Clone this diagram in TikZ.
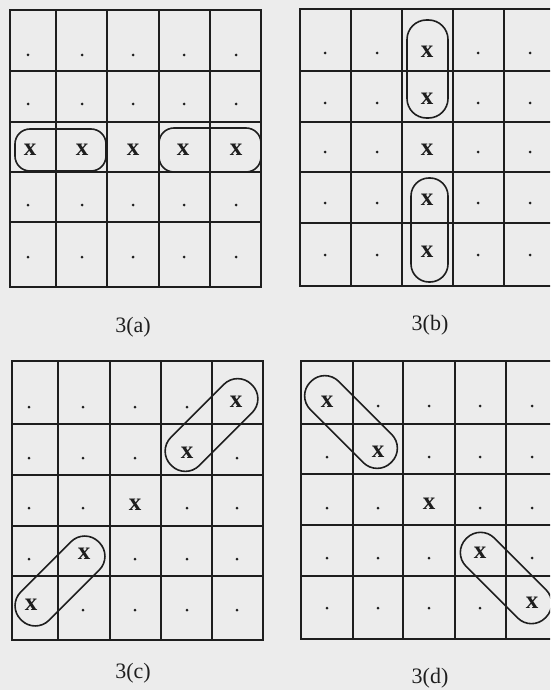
\documentclass[tikz,border=0pt]{standalone}
\usepackage{fontspec}
\setmainfont{Liberation Serif}
\definecolor{ink}{RGB}{30,30,30}
\definecolor{paper}{RGB}{236,236,236}
\begin{document}
\begin{tikzpicture}[x=1pt,y=-1pt,
  gridline/.style={line width=2pt, draw=ink},
  loop/.style={line width=1.6pt, draw=ink},
  pt/.style={circle, fill=ink, inner sep=0pt, minimum size=3pt},
  xmark/.style={font=\fontsize{25}{25}\selectfont\bfseries, text=ink, inner sep=0pt},
  lab/.style={font=\fontsize{22}{22}\selectfont, text=ink, inner sep=0pt}]
\fill[paper] (0,0) rectangle (550,690);
\useasboundingbox (0,0) rectangle (550,690);
\clip (0,0) rectangle (550,690);

% ---------- grid 3(a)
\draw[gridline] (10,10) rectangle (261,287);
\foreach \v in {56,107,159,210} \draw[gridline] (\v,10) -- (\v,287);
\foreach \h in {71,122,172,222} \draw[gridline] (10,\h) -- (261,\h);
\foreach \px/\i in {28/1,82/2,133/3,184/4,236/5}
  \foreach \py/\j in {55/1,104/2,205/4,257/5}
    \node[pt] (a-\j-\i) at (\px,\py) {};
\foreach \px/\i in {30/1,82/2,133/3,183/4,236/5}
  \node[xmark] (ax\i) at (\px,150) {x};
\draw[loop, rounded corners=15pt] (15,129) rectangle (106,171);
\draw[loop, rounded corners=15pt] (159,128) rectangle (261,172);
\node[lab] (la) at (133,327) {3(a)};

% ---------- grid 3(b)
\draw[gridline] (300,9) rectangle (560,286);
\foreach \v in {351,402,453,504} \draw[gridline] (\v,9) -- (\v,286);
\foreach \h in {71,122,172,223} \draw[gridline] (300,\h) -- (560,\h);
\foreach \px/\i in {325/1,377/2,478/4,530/5}
  \foreach \py/\j in {53/1,103/2,152/3,203/4,255/5}
    \node[pt] (b-\j-\i) at (\px,\py) {};
\foreach \py/\j in {52/1,99/2,150/3,200/4,252/5}
  \node[xmark] (bx\j) at (427,\py) {x};
\draw[loop, shift={(427.5,69)}, rotate=90, rounded corners=19.5pt] (-49,-20.5) rectangle (49,20.5);
\draw[loop, shift={(429.5,230)}, rotate=90, rounded corners=18pt] (-52,-18.5) rectangle (52,18.5);
\node[lab] (lb) at (430,325) {3(b)};

% ---------- grid 3(c)
\draw[gridline] (12,361) rectangle (263,640);
\foreach \v in {58,110,161,212} \draw[gridline] (\v,361) -- (\v,640);
\foreach \h in {424,475,526,576} \draw[gridline] (12,\h) -- (263,\h);
\foreach \px/\i in {29/1,83/2,135/3,187/4,237/5}
  \foreach \py/\j in {407/1,458/2,508/3,559/4,610/5}
    {\pgfmathtruncatemacro{\s}{\i+\j}
     \ifnum\s=6\relax\else\node[pt] (c-\j-\i) at (\px,\py) {};\fi}
\node[xmark] (cx1) at (236,402) {x};
\node[xmark] (cx2) at (187,453) {x};
\node[xmark] (cx3) at (135,505) {x};
\node[xmark] (cx4) at (84,554) {x};
\node[xmark] (cx5) at (31,605) {x};
\draw[loop, shift={(211.5,425)}, rotate=45, rounded corners=19.5pt] (-57,-20) rectangle (57,20);
\draw[loop, shift={(60,581)}, rotate=45, rounded corners=19.5pt] (-55,-20) rectangle (55,20);
\node[lab] (lc) at (133,673) {3(c)};

% ---------- grid 3(d)
\draw[gridline] (301,361) rectangle (560,639);
\foreach \v in {353,403,455,506} \draw[gridline] (\v,361) -- (\v,639);
\foreach \h in {424,474,525,576} \draw[gridline] (301,\h) -- (560,\h);
\foreach \px/\i in {327/1,378/2,429/3,480/4,532/5}
  \foreach \py/\j in {406/1,457/2,508/3,558/4,608/5}
    {\ifnum\i=\j\relax\else\node[pt] (d-\j-\i) at (\px,\py) {};\fi}
\node[xmark] (dx1) at (327,402) {x};
\node[xmark] (dx2) at (378,452) {x};
\node[xmark] (dx3) at (429,504) {x};
\node[xmark] (dx4) at (480,553) {x};
\node[xmark] (dx5) at (532,603) {x};
\draw[loop, shift={(351,422)}, rotate=-45, rounded corners=19.5pt] (-57,-20) rectangle (57,20);
\draw[loop, shift={(506,578)}, rotate=-45, rounded corners=19.5pt] (-56,-20) rectangle (56,20);
\node[lab] (ld) at (430,678) {3(d)};
\end{tikzpicture}
\end{document}
